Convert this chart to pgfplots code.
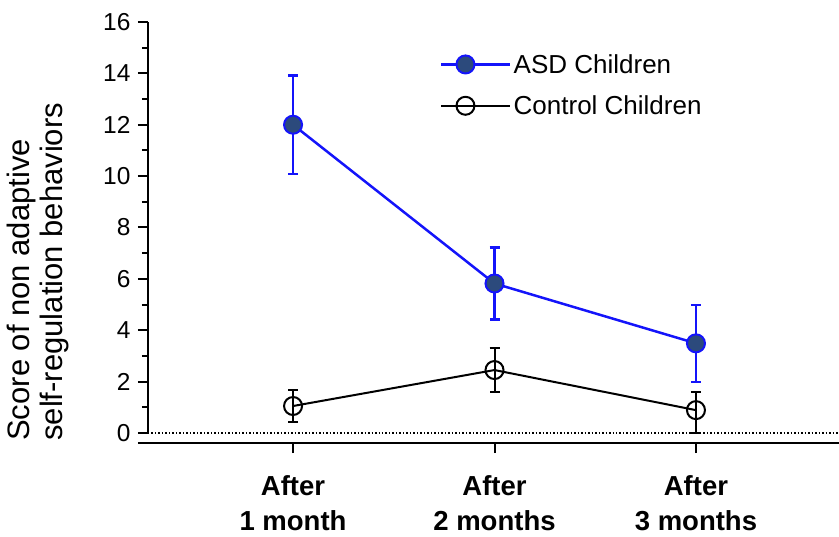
\documentclass[border=0pt]{standalone}
\usepackage{pgfplots}
\pgfplotsset{compat=1.18}
\usepackage{fontspec}
\setmainfont{Liberation Sans}
\definecolor{asdline}{RGB}{20,20,250}
\definecolor{asdfill}{RGB}{44,74,124}
\begin{document}
\begin{tikzpicture}
\begin{axis}[
  at={(0,0)}, anchor=south west,
  scale only axis, width=691bp, height=421bp,
  xmin=0.28, xmax=3.71, ymin=-0.39, ymax=16,
  clip=false,
  axis lines=left,
  axis line style={draw=none},
  xtick={1,2,3},
  xticklabels={{After\\1 month},{After\\2 months},{After\\3 months}},
  x tick label style={align=center, font=\fontsize{27.5bp}{35bp}\selectfont\bfseries, yshift=-19bp},
  ytick={0,2,...,16},
  minor ytick={1,3,...,15},
  tick align=outside,
  major tick length=10bp, minor tick length=6bp,
  tick style={line width=2bp, black},
  y tick label style={font=\fontsize{24.5bp}{28bp}\selectfont, xshift=-4bp},
  /pgf/number format/assume math mode=true,
  ylabel={Score of non adaptive\\self-regulation behaviors},
  ylabel style={at={(axis description cs:-0.159,0.005)}, anchor=west, align=left, inner sep=0pt,
    font=\fontsize{31bp}{33bp}\selectfont},
  legend style={draw=none, fill=none, at={(rel axis cs:0.4226,0.9285)}, anchor=north west,
    font=\fontsize{26bp}{30bp}\selectfont, row sep=17bp, inner sep=0pt},
  legend cell align=left,
  legend image code/.code={\path (0bp,0bp) -- (69bp,0bp);
    \draw[mark repeat=2,mark phase=2,#1] plot coordinates {(0bp,0bp) (24bp,0bp) (48bp,0bp)};},
]
\addplot[black, dotted, line width=1.5bp, forget plot] coordinates {(0.28,0) (3.71,0)};
\addplot[asdline, line width=2.5bp, mark=*, mark size=9bp,
  mark options={fill=asdfill, draw=asdline, line width=2bp},
  error bars/.cd, y dir=both, y explicit,
  error bar style={line width=2.5bp, asdline},
  error mark options={rotate=90, mark size=5bp, line width=2.5bp, asdline}]
  coordinates {(1,12.0) +- (0,1.92) (2,5.82) +- (0,1.40) (3,3.49) +- (0,1.50)};
\addlegendentry{ASD Children}
\addplot[black, line width=2bp, mark=o, mark size=9bp,
  mark options={draw=black, fill=none, line width=2bp},
  error bars/.cd, y dir=both, y explicit,
  error bar style={line width=2bp, black},
  error mark options={rotate=90, mark size=5bp, line width=2bp, black}]
  coordinates {(1,1.05) +- (0,0.64) (2,2.45) +- (0,0.86) (3,0.89) -= (0,0.88) += (0,0.72)};
\addlegendentry{Control Children}
\draw[line width=2.3bp] (axis cs:0.28,0) -- (axis cs:0.28,16);
\draw[line width=2.3bp] ([xshift=-10bp]axis cs:0.28,-0.39) -- (axis cs:3.71,-0.39);
\end{axis}
\pgfresetboundingbox
\path (-148bp,-94bp) rectangle (691bp,443bp);
\end{tikzpicture}
\end{document}
